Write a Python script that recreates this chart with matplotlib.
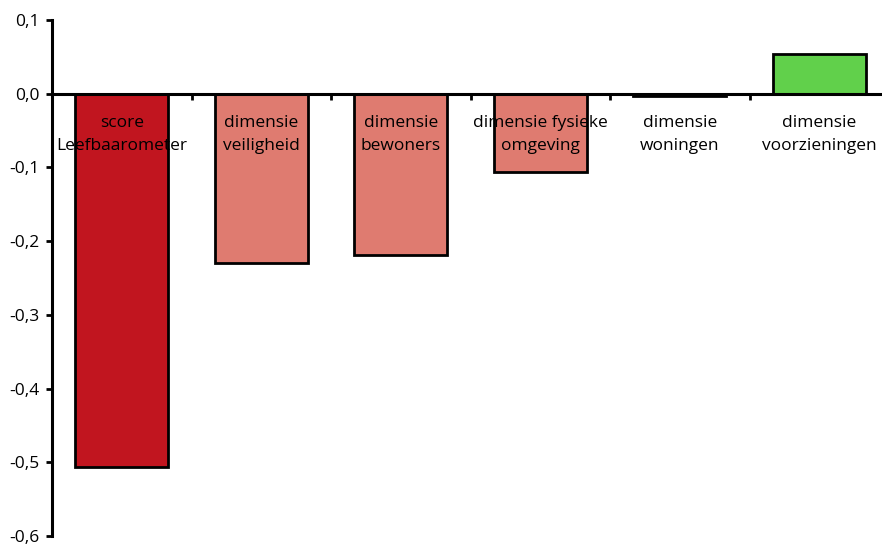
import matplotlib.pyplot as plt
from matplotlib.ticker import FixedLocator

categories = ['score\nLeefbaarometer', 'dimensie\nveiligheid', 'dimensie\nbewoners',
              'dimensie fysieke\nomgeving', 'dimensie\nwoningen', 'dimensie\nvoorzieningen']
values = [-0.506, -0.230, -0.219, -0.106, -0.003, 0.054]
colors = ['#C1151F', '#DF7B70', '#DF7B70', '#DF7B70', '#DF7B70', '#61D04B']
yticks = [0.1, 0.0, -0.1, -0.2, -0.3, -0.4, -0.5, -0.6]
ytick_labels = ['0,1', '0,0', '-0,1', '-0,2', '-0,3', '-0,4', '-0,5', '-0,6']

plt.rcParams['font.family'] = ['Open Sans', 'DejaVu Sans']

fig = plt.figure(figsize=(8.82, 5.45), dpi=100)
ax = fig.add_axes([52 / 882, 9 / 545, 837 / 882, 516 / 545])
ax.set_axisbelow(False)

x = list(range(len(categories)))
ax.bar(x, values, width=0.67, color=colors, edgecolor='black', linewidth=2, zorder=1)

ax.set_xlim(-0.5, 5.5)
ax.set_ylim(-0.6, 0.1)

ax.spines['top'].set_visible(False)
ax.spines['right'].set_visible(False)
ax.spines['bottom'].set_position(('data', 0))
ax.spines['bottom'].set_linewidth(2.2)
ax.spines['left'].set_linewidth(2.2)

ax.set_yticks(yticks)
ax.set_yticklabels(ytick_labels, fontsize=12.5)
ax.tick_params(axis='y', direction='out', length=4, width=2, pad=5)

ax.set_xticks(x)
ax.set_xticklabels(categories, fontsize=12.5, linespacing=1.65)
ax.tick_params(axis='x', which='major', length=0, pad=15)
ax.xaxis.set_minor_locator(FixedLocator([0.5, 1.5, 2.5, 3.5, 4.5]))
ax.tick_params(axis='x', which='minor', direction='out', length=4, width=2)

fig.savefig('out.png', dpi=100)
